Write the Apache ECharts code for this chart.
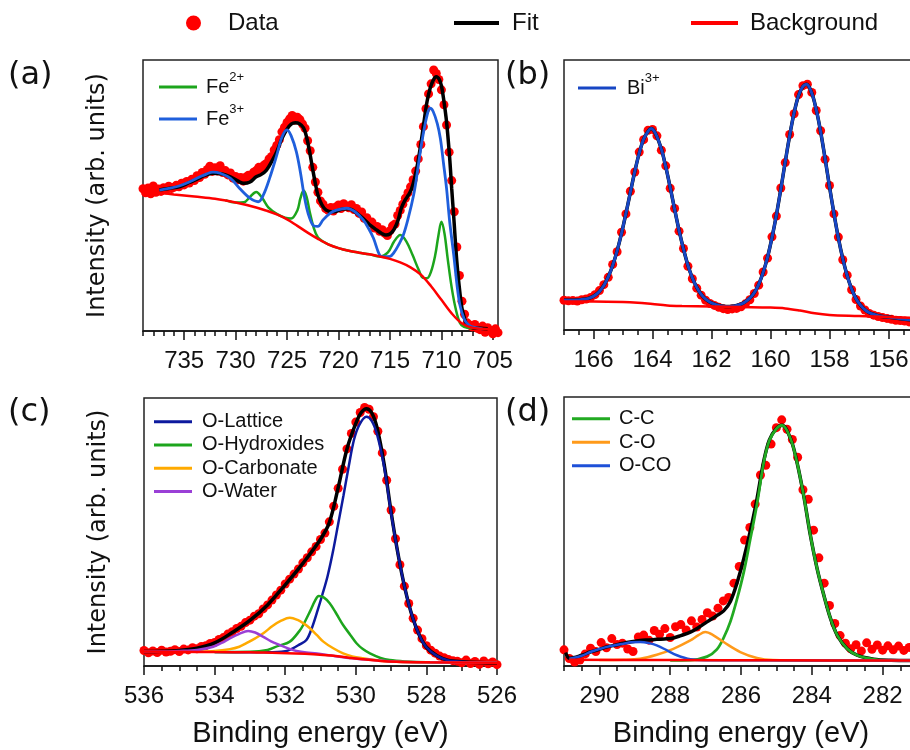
<!DOCTYPE html>
<html>
<head>
<meta charset="utf-8">
<title>XPS spectra</title>
<script src="https://cdn.jsdelivr.net/npm/echarts@6.0.0/dist/echarts.min.js"></script>
<style>
  html, body { margin: 0; padding: 0; background: #fff; }
  #chart { width: 910px; height: 750px; }
</style>
</head>
<body>
<div id="chart"></div>
<script>
// ---- tick positions (eV) ----
var aMajor = [705, 710, 715, 720, 725, 730, 735];
var aMinor = [705, 706, 707, 708, 709, 710, 711, 712, 713, 714, 715, 716, 717, 718, 719, 720, 721, 722, 723, 724, 725, 726, 727, 728, 729, 730, 731, 732, 733, 734, 735, 736, 737, 738, 739];
var bMajor = [156, 158, 160, 162, 164, 166];
var bMinor = [155, 155.5, 156, 156.5, 157, 157.5, 158, 158.5, 159, 159.5, 160, 160.5, 161, 161.5, 162, 162.5, 163, 163.5, 164, 164.5, 165, 165.5, 166, 166.5, 167];
var cMajor = [526, 528, 530, 532, 534, 536];
var cMinor = [526, 526.5, 527, 527.5, 528, 528.5, 529, 529.5, 530, 530.5, 531, 531.5, 532, 532.5, 533, 533.5, 534, 534.5, 535, 535.5, 536];
var dMajor = [282, 284, 286, 288, 290];
var dMinor = [281, 281.5, 282, 282.5, 283, 283.5, 284, 284.5, 285, 285.5, 286, 286.5, 287, 287.5, 288, 288.5, 289, 289.5, 290, 290.5, 291];

// ---- (a) Fe 2p : [binding energy, intensity 0-100] ----
var aData = [[739.00,52.5],[738.75,51.0],[738.50,52.8],[738.25,50.6],[738.00,53.5],[737.75,51.2],[737.50,52.4],[737.25,51.5],[737.00,52.9],[736.75,52.0],[736.50,53.4],[736.25,52.6],[736.00,53.0],[735.75,53.8],[735.50,53.2],[735.25,54.5],[735.00,53.9],[734.75,55.2],[734.50,54.6],[734.25,56.0],[734.00,55.5],[733.75,57.3],[733.50,56.6],[733.25,58.5],[733.00,57.8],[732.75,59.6],[732.50,60.8],[732.25,58.9],[732.00,60.2],[731.75,59.0],[731.50,61.0],[731.25,58.5],[731.00,59.2],[730.75,57.6],[730.50,58.3],[730.25,56.4],[730.00,57.0],[729.75,55.8],[729.50,56.6],[729.25,55.3],[729.00,56.8],[728.75,57.5],[728.50,56.9],[728.25,58.6],[728.00,59.2],[727.75,60.4],[727.50,59.5],[727.25,61.2],[727.00,61.8],[726.75,63.5],[726.50,64.4],[726.25,66.8],[726.00,68.5],[725.75,70.6],[725.50,73.5],[725.25,75.2],[725.00,77.0],[724.75,78.3],[724.50,79.5],[724.25,77.8],[724.00,78.9],[723.75,78.0],[723.50,76.4],[723.25,74.8],[723.00,70.2],[722.75,66.5],[722.50,60.4],[722.25,55.0],[722.00,51.2],[721.75,48.0],[721.50,46.8],[721.25,45.2],[721.00,44.5],[720.75,45.6],[720.50,44.3],[720.25,45.8],[720.00,46.5],[719.75,45.2],[719.50,47.0],[719.25,46.1],[719.00,45.5],[718.75,46.6],[718.50,44.8],[718.25,45.2],[718.00,43.4],[717.75,43.9],[717.50,41.6],[717.25,41.8],[717.00,39.9],[716.75,40.2],[716.50,38.0],[716.25,38.6],[716.00,36.8],[715.75,37.4],[715.50,36.0],[715.25,35.2],[715.00,37.0],[714.75,38.8],[714.50,39.5],[714.25,42.6],[714.00,44.5],[713.75,46.8],[713.50,49.0],[713.25,51.0],[713.00,53.2],[712.75,55.8],[712.50,59.0],[712.25,63.5],[712.00,68.8],[711.75,75.4],[711.50,82.0],[711.25,87.5],[711.00,91.2],[710.75,96.3],[710.50,95.0],[710.25,92.8],[710.00,89.0],[709.75,83.5],[709.50,76.0],[709.25,66.0],[709.00,55.5],[708.75,44.0],[708.50,31.0],[708.25,20.5],[708.00,11.0],[707.75,6.2],[707.50,3.0],[707.25,2.2],[707.00,1.5],[706.75,2.4],[706.50,1.0],[706.25,0.5],[706.00,1.8],[705.75,-0.5],[705.50,1.2],[705.25,0.2],[705.00,-1.0],[704.75,0.8],[704.50,-0.6]];
var aFit = [[737.4,52.0],[736.5,52.6],[735.4,53.3],[734.5,54.8],[733.8,55.9],[733.0,57.4],[732.2,58.2],[731.4,58.0],[730.5,56.9],[729.8,55.4],[729.2,54.5],[728.6,55.0],[728.0,56.9],[727.5,57.8],[727.0,59.4],[726.5,62.5],[726.0,66.2],[725.5,71.0],[725.0,74.5],[724.6,76.3],[724.2,76.8],[723.8,76.5],[723.4,75.0],[723.1,71.5],[722.8,66.0],[722.5,59.5],[722.2,53.5],[722.0,50.2],[721.6,46.5],[721.2,44.6],[720.6,44.0],[720.2,44.2],[719.6,45.0],[719.0,45.1],[718.6,44.5],[718.2,43.4],[717.6,41.5],[717.0,39.3],[716.3,37.3],[715.8,36.0],[715.4,35.4],[715.0,35.8],[714.6,37.5],[714.2,41.0],[713.9,45.3],[713.5,48.5],[713.2,50.2],[712.9,52.5],[712.6,56.5],[712.3,62.0],[712.0,69.0],[711.7,77.0],[711.4,84.6],[711.1,89.5],[710.8,92.5],[710.5,93.8],[710.2,92.8],[710.0,90.5],[709.8,86.0],[709.5,77.2],[709.2,64.0],[709.0,52.6],[708.8,42.0],[708.5,25.6],[708.2,14.0],[708.0,8.4],[707.7,4.0],[707.5,2.2],[707.0,1.2],[706.2,1.0],[705.5,0.8]];
var aFe2 = [[731,48.3],[730,47.4],[729.2,47.5],[728.6,49.5],[728.0,51.3],[727.4,49.0],[726.8,45.5],[726.0,43.2],[725.2,41.8],[724.6,41.5],[724.0,44.5],[723.7,49.0],[723.4,51.8],[723.1,49.5],[722.8,44.0],[722.4,38.0],[722.0,34.5],[721.5,33.0],[721,32.0],[720,30.6],[719,29.6],[718,28.9],[717,28.3],[716,27.5],[715.2,29.0],[714.6,33.0],[714.0,35.4],[713.4,33.0],[712.8,28.0],[712.2,22.5],[711.8,19.6],[711.4,19.5],[711.0,22.0],[710.6,28.0],[710.3,35.0],[710.0,40.3],[709.7,36.0],[709.4,27.0],[709.0,16.0],[708.6,8.0],[708.2,3.0],[707.8,1.5],[707,1.0]];
var aFe3 = [[737.4,52.0],[736.5,52.6],[735.5,53.5],[734.5,55.0],[733.5,56.8],[732.8,58.0],[732.2,58.6],[731.5,58.2],[730.5,56.3],[729.6,52.6],[728.6,49.0],[727.8,47.7],[727.3,50.2],[726.7,56.3],[726.0,64.9],[725.5,71.5],[725.0,74.2],[724.6,72.0],[724.1,66.2],[723.7,58.5],[723.4,51.4],[723.1,45.5],[722.8,41.6],[722.4,38.8],[722.0,38.6],[721.5,41.0],[720.8,43.5],[720.2,44.6],[719.2,45.3],[718.4,44.0],[717.6,41.0],[717.1,38.0],[716.6,34.2],[716.0,28.0],[715.6,27.4],[715.0,27.5],[714.6,29.0],[714.2,31.5],[713.7,35.4],[713.2,42.0],[712.7,50.2],[712.4,57.0],[712.1,64.9],[711.8,72.0],[711.4,79.5],[711.1,82.2],[710.8,81.0],[710.4,76.5],[710.1,71.0],[709.8,62.0],[709.5,52.6],[709.2,40.5],[708.8,28.0],[708.5,17.5],[708.2,9.6],[707.8,4.5],[707.5,2.8],[707.0,1.5],[706.0,0.8]];
var aBg = [[737.4,51.0],[736,50.4],[734,49.6],[732,48.8],[730,47.4],[728,45.6],[727,44.4],[726,43.0],[725,41.2],[724,38.8],[723,36.3],[722,34.0],[721,32.0],[720,30.6],[719,29.6],[718,28.9],[717,28.3],[716,27.5],[715,26.6],[714,25.3],[713,23.5],[712,20.8],[711,16.5],[710,11.5],[709,6.5],[708,2.8],[707,1.2],[706,0.8],[705,0.6]];

// ---- (b) Bi 4f ----
var bData = [[167.00,11.0],[166.85,10.8],[166.70,10.9],[166.55,10.7],[166.40,11.2],[166.25,11.5],[166.10,12.0],[165.95,13.1],[165.80,14.6],[165.65,16.8],[165.50,19.5],[165.35,24.3],[165.20,29.0],[165.05,36.2],[164.90,43.0],[164.75,51.4],[164.60,58.5],[164.45,65.9],[164.30,70.5],[164.15,74.0],[164.00,74.3],[163.85,71.9],[163.70,66.6],[163.55,60.8],[163.40,52.5],[163.25,45.0],[163.10,36.6],[162.95,30.2],[162.80,23.6],[162.65,19.0],[162.50,15.5],[162.35,12.9],[162.20,11.0],[162.05,9.8],[161.90,9.1],[161.75,8.4],[161.60,7.9],[161.45,7.6],[161.30,7.8],[161.15,8.0],[161.00,8.6],[160.85,9.7],[160.70,11.2],[160.55,13.5],[160.40,16.6],[160.25,21.5],[160.10,26.6],[159.95,34.5],[159.80,42.2],[159.65,52.6],[159.50,62.0],[159.35,72.4],[159.20,80.1],[159.05,87.2],[158.90,90.5],[158.75,91.0],[158.60,88.0],[158.45,81.3],[158.30,73.8],[158.15,63.2],[158.00,53.5],[157.85,43.0],[157.70,34.4],[157.55,26.0],[157.40,20.3],[157.25,14.9],[157.10,11.3],[156.95,8.9],[156.80,7.4],[156.65,6.1],[156.50,5.5],[156.35,5.0],[156.20,4.6],[156.05,4.3],[155.90,4.0],[155.75,3.6],[155.60,3.5],[155.45,3.3],[155.30,3.0],[155.15,2.8],[155.00,2.6]];
var bFit = [[167.00,11.0],[166.85,11.0],[166.70,11.0],[166.55,11.1],[166.40,11.3],[166.25,11.5],[166.10,12.0],[165.95,12.9],[165.80,14.3],[165.65,16.5],[165.50,19.7],[165.35,23.9],[165.20,29.3],[165.05,35.8],[164.90,43.2],[164.75,51.0],[164.60,58.7],[164.45,65.5],[164.30,70.7],[164.15,73.6],[164.05,74.6],[163.90,72.8],[163.70,67.0],[163.55,60.4],[163.40,52.8],[163.25,44.7],[163.10,36.9],[162.95,30.0],[162.80,24.0],[162.65,19.3],[162.50,15.8],[162.35,13.2],[162.20,11.4],[162.05,10.3],[161.90,9.6],[161.75,9.1],[161.60,8.8],[161.45,8.7],[161.30,8.8],[161.15,9.1],[161.00,9.6],[160.85,10.5],[160.70,11.8],[160.55,13.8],[160.40,16.9],[160.25,21.3],[160.10,27.0],[159.95,34.2],[159.80,42.6],[159.65,52.2],[159.50,62.3],[159.35,72.0],[159.20,80.4],[159.05,86.8],[158.90,90.2],[158.78,91.0],[158.60,87.7],[158.45,81.6],[158.30,73.4],[158.15,63.5],[158.00,53.1],[157.85,43.2],[157.70,34.1],[157.55,26.4],[157.40,20.1],[157.25,15.2],[157.10,11.6],[156.95,9.2],[156.80,7.5],[156.65,6.4],[156.50,5.8],[156.35,5.3],[156.20,5.0],[156.05,4.8],[155.75,4.4],[155.45,4.0],[155.00,3.5]];
var bBg = [[167,10.6],[166,10.6],[165,10.4],[164.5,10.1],[164,9.6],[163.5,9.1],[163,8.9],[162,8.7],[161,8.5],[160,8.3],[159.5,8.0],[159,7.2],[158.5,6.2],[158,5.6],[157,5.2],[156,4.8],[155,4.5]];

// ---- (c) O 1s ----
var cData = [[536.000,5.8],[535.875,4.9],[535.750,5.6],[535.625,5.0],[535.500,5.9],[535.375,5.2],[535.250,5.5],[535.125,6.1],[535.000,5.4],[534.875,6.3],[534.750,6.0],[534.625,6.8],[534.500,6.4],[534.375,7.3],[534.250,7.6],[534.125,8.4],[534.000,8.8],[533.875,9.9],[533.750,10.6],[533.625,11.9],[533.500,12.8],[533.375,14.0],[533.250,14.8],[533.125,16.2],[533.000,17.1],[532.875,18.6],[532.750,19.5],[532.625,21.3],[532.500,22.8],[532.375,24.6],[532.250,26.5],[532.125,28.3],[532.000,30.6],[531.875,32.4],[531.750,34.3],[531.625,36.2],[531.500,38.5],[531.375,40.4],[531.250,42.6],[531.125,44.6],[531.000,47.2],[530.875,49.6],[530.750,53.8],[530.625,59.6],[530.500,66.3],[530.375,73.4],[530.250,81.0],[530.125,86.8],[530.000,91.0],[529.875,94.6],[529.750,96.5],[529.625,95.8],[529.500,93.0],[529.375,87.6],[529.250,79.5],[529.125,69.3],[529.000,58.2],[528.875,47.5],[528.750,37.8],[528.625,29.8],[528.500,23.3],[528.375,17.8],[528.250,13.4],[528.125,10.2],[528.000,7.6],[527.875,5.9],[527.750,4.8],[527.625,3.7],[527.500,3.1],[527.375,2.4],[527.250,2.0],[527.125,1.8],[527.000,1.2],[526.875,2.2],[526.750,0.9],[526.625,1.7],[526.500,0.6],[526.375,1.9],[526.250,0.8],[526.125,1.5],[526.000,0.5]];
var cFit = [[536,5.4],[535.5,5.5],[535,5.8],[534.5,6.6],[534,8.6],[533.5,12.5],[533,17.0],[532.5,22.8],[532,30.3],[531.5,38.3],[531,47.3],[530.75,53.5],[530.5,66.5],[530.25,81.0],[530,90.5],[529.85,94.5],[529.7,96.0],[529.55,94.5],[529.4,89.0],[529.2,75.5],[529,57.5],[528.8,41.5],[528.6,28.5],[528.4,18.5],[528.2,11.5],[528,7.0],[527.7,3.8],[527.4,2.2],[527,1.6],[526.5,1.3],[526,1.2]];
var cLattice = [[534,5.2],[533,5.1],[532.5,5.1],[532,5.5],[531.8,6.5],[531.6,8.0],[531.4,9.7],[531.25,14.0],[531.1,20.0],[530.95,26.5],[530.8,33.5],[530.65,42.5],[530.5,53.0],[530.35,63.5],[530.2,74.5],[530.05,84.5],[529.9,90.0],[529.7,93.0],[529.55,91.5],[529.4,86.5],[529.2,74.5],[529,57.0],[528.8,41.5],[528.6,28.5],[528.4,18.5],[528.2,11.5],[528,7.0],[527.7,3.8],[527.4,2.2],[527,1.6],[526.5,1.3],[526,1.2]];
var cHydrox = [[534,5.2],[533,5.3],[532.5,6.0],[532.2,7.5],[531.87,9.1],[531.6,13.0],[531.49,15.3],[531.3,20.3],[531.15,24.5],[531.05,26.1],[530.9,25.5],[530.74,23.4],[530.55,19.5],[530.36,15.3],[530.15,11.5],[529.98,8.5],[529.8,6.3],[529.6,4.7],[529.3,3.0],[529.04,2.2],[528.6,1.7],[528,1.4],[527,1.3],[526,1.2]];
var cCarb = [[535,5.3],[534.5,5.4],[534,5.6],[533.57,6.3],[533.3,7.2],[533.1,8.5],[532.85,10.3],[532.62,12.2],[532.35,15.0],[532.1,17.0],[531.87,18.0],[531.65,17.2],[531.47,15.8],[531.3,14.1],[531.1,11.5],[530.92,9.1],[530.65,6.7],[530.36,4.7],[530.1,3.6],[529.8,2.9],[529.3,2.0],[528.85,1.6],[528,1.4],[527,1.3],[526,1.2]];
var cWater = [[536,5.4],[535.5,5.4],[535,5.6],[534.5,6.0],[534.04,7.2],[533.8,8.6],[533.57,10.3],[533.3,12.0],[533.05,13.1],[532.85,12.5],[532.62,10.9],[532.4,9.2],[532.15,7.8],[531.9,6.5],[531.68,5.6],[531.4,5.0],[531.1,4.7],[530.7,3.9],[530.2,3.0],[529.5,2.2],[529,1.7],[528,1.4],[527,1.3],[526,1.2]];
var cBg = [[536,5.4],[535,5.3],[534,5.2],[533,5.1],[532.6,5.0],[531.7,4.7],[531.2,4.4],[530.7,3.9],[530.2,3.1],[529.8,2.5],[529.3,1.9],[528.85,1.6],[527.9,1.4],[526,1.2]];

// ---- (d) C 1s ----
var dData = [[291.00,6.0],[290.85,2.8],[290.70,1.5],[290.55,2.2],[290.40,4.5],[290.25,6.6],[290.10,5.4],[289.95,8.7],[289.80,6.8],[289.65,10.2],[289.50,8.0],[289.35,8.5],[289.20,6.3],[289.05,5.4],[288.90,10.8],[288.75,11.5],[288.60,9.6],[288.45,13.2],[288.30,11.8],[288.15,13.9],[288.00,10.6],[287.85,14.6],[287.70,15.4],[287.55,13.4],[287.40,16.8],[287.25,14.5],[287.10,17.3],[286.95,19.8],[286.80,18.6],[286.65,21.5],[286.50,24.2],[286.35,25.5],[286.20,30.8],[286.05,37.0],[285.90,46.8],[285.75,51.5],[285.60,60.2],[285.45,71.0],[285.30,74.6],[285.15,82.5],[285.00,88.6],[284.85,91.5],[284.70,88.0],[284.55,84.2],[284.40,77.6],[284.25,65.5],[284.10,62.0],[283.95,50.5],[283.80,40.2],[283.65,30.8],[283.50,22.5],[283.35,15.8],[283.20,11.3],[283.05,8.5],[282.90,6.4],[282.75,7.9],[282.60,5.6],[282.45,8.6],[282.30,6.2],[282.15,7.8],[282.00,5.9],[281.85,7.5],[281.70,6.0],[281.55,7.4],[281.40,5.8],[281.25,6.9],[281.10,6.3],[281.00,7.0]];
var dFit = [[290.95,5.0],[290.85,2.9],[290.5,4.0],[290.26,5.2],[290.0,6.2],[289.79,7.1],[289.5,7.9],[289.32,8.5],[289.0,9.2],[288.85,9.5],[288.6,9.7],[288.38,9.9],[288.1,10.1],[287.91,10.4],[287.7,11.3],[287.43,12.6],[287.2,14.3],[286.96,16.4],[286.7,18.6],[286.49,20.5],[286.3,24.0],[286.11,31.0],[285.92,40.0],[285.74,50.0],[285.55,62.0],[285.36,76.0],[285.2,84.0],[285.0,88.3],[284.84,89.5],[284.6,84.5],[284.42,75.8],[284.23,63.4],[284.04,48.6],[283.85,36.2],[283.66,26.3],[283.47,17.6],[283.28,11.4],[283.0,6.4],[282.72,4.0],[282.25,2.5],[281.77,2.1],[281,2.0]];
var dCC = [[288,2.1],[287.43,2.2],[286.96,3.5],[286.68,6.2],[286.49,10.5],[286.3,16.5],[286.11,25.0],[285.92,35.0],[285.74,47.0],[285.55,60.0],[285.36,75.5],[285.2,83.8],[285.0,88.2],[284.84,89.5],[284.6,84.5],[284.42,75.8],[284.23,63.4],[284.04,48.6],[283.85,36.2],[283.66,26.3],[283.47,17.6],[283.28,11.4],[283.0,6.4],[282.72,4.0],[282.25,2.5],[281.77,2.1],[281,2.0]];
var dCO = [[290,2.2],[289.3,2.3],[288.85,2.7],[288.38,4.2],[287.91,6.4],[287.43,9.5],[287.2,11.5],[287.01,12.6],[286.8,11.6],[286.49,8.9],[286.02,5.2],[285.55,3.0],[285.1,2.2],[284.5,2.1],[281,2.0]];
var dOCO = [[290.85,2.7],[290.5,3.8],[290.26,5.2],[290.0,6.3],[289.79,7.1],[289.5,7.9],[289.32,8.3],[289.1,8.8],[288.85,8.9],[288.6,8.5],[288.38,7.7],[288.09,5.8],[287.81,4.0],[287.43,2.5],[287.0,2.1],[286,2.1],[281,2.0]];
var dBg = [[290.85,2.3],[288,2.2],[285,2.1],[281,2.0]];

var LIB = "'Liberation Sans', Arial, sans-serif";
var DJV = "'DejaVu Sans', sans-serif";

var myChart = echarts.init(document.getElementById('chart'), null, { renderer: 'canvas' });

// main axis (labels + long ticks) and a second one for the short ticks
function xAxes(gi, min, max, major, minor, withName) {
    var main = {
        gridIndex: gi, type: 'value', inverse: true, min: min, max: max, position: 'bottom',
        axisLine: { show: true, onZero: false, lineStyle: { color: '#111', width: 1.5 } },
        axisTick: { show: true, customValues: major, length: 9, lineStyle: { color: '#111', width: 1.5 } },
        axisLabel: { customValues: major, color: '#111', fontFamily: LIB, fontSize: 24, margin: 18 },
        splitLine: { show: false }
    };
    if (withName) {
        main.name = 'Binding energy (eV)';
        main.nameLocation = 'middle';
        main.nameGap = 53;
        main.nameTextStyle = { color: '#111', fontFamily: LIB, fontSize: 29 };
    }
    var sub = {
        gridIndex: gi, type: 'value', inverse: true, min: min, max: max, position: 'bottom', offset: 0,
        axisLine: { show: false },
        axisTick: { show: true, customValues: minor, length: 5, lineStyle: { color: '#111', width: 1.5 } },
        axisLabel: { show: false },
        splitLine: { show: false }
    };
    return [main, sub];
}

function yAxis(gi, withName) {
    var y = {
        gridIndex: gi, type: 'value', min: 0, max: 100,
        axisLine: { show: false }, axisTick: { show: false }, axisLabel: { show: false },
        splitLine: { show: false }
    };
    if (withName) {
        y.name = 'Intensity (arb. units)';
        y.nameLocation = 'middle';
        y.nameGap = 33;
        y.nameTextStyle = { color: '#111', fontFamily: DJV, fontSize: 24 };
    }
    return y;
}

function dots(data, xi) {
    return {
        name: 'Data', type: 'scatter', xAxisIndex: xi, yAxisIndex: xi / 2, data: data,
        symbol: 'circle', symbolSize: 9, color: '#ff0000', clip: false,
        itemStyle: { color: '#ff0000', opacity: 1 }
    };
}

function curve(name, data, xi, color, width) {
    return {
        name: name, type: 'line', xAxisIndex: xi, yAxisIndex: xi / 2, data: data,
        color: color, showSymbol: false, symbol: 'none', smooth: 0.35,
        lineStyle: { color: color, width: width }
    };
}

function panelLegend(names, left, top, rowH, pad) {
    return {
        data: names, orient: 'vertical', left: left, top: top, padding: 0,
        itemWidth: 38, itemHeight: 3, itemGap: 0, icon: 'rect', selectedMode: false,
        formatter: function (n) { return n.replace(/(\d\+)$/, '{s|$1}'); },
        textStyle: {
            color: '#111', fontFamily: LIB, fontSize: 20, lineHeight: rowH, padding: [0, 0, 0, pad],
            rich: { s: { color: '#111', fontFamily: LIB, fontSize: 13, lineHeight: 14, verticalAlign: 'top' } }
        }
    };
}

function panelTitle(text, left, top) {
    return { text: text, left: left, top: top, padding: 0,
        textStyle: { color: '#111', fontFamily: DJV, fontSize: 32, fontWeight: 'normal' } };
}

function panelGrid(left, top, width, height) {
    return { left: left, top: top, width: width, height: height, outerBoundsMode: 'none',
        containLabel: false, show: true, borderColor: '#222', borderWidth: 1.5 };
}

var xs = [].concat(
    xAxes(0, 704.5, 739, aMajor, aMinor, false),
    xAxes(1, 155, 167, bMajor, bMinor, false),
    xAxes(2, 526, 536, cMajor, cMinor, true),
    xAxes(3, 281, 291, dMajor, dMinor, true)
);

var option = {
    animation: false,
    backgroundColor: '#fff',
    title: [
        panelTitle('(a)', 8, 60),
        panelTitle('(b)', 505, 60),
        panelTitle('(c)', 8, 397),
        panelTitle('(d)', 505, 397)
    ],
    legend: [
        { data: ['Data'], left: 186, top: 8, padding: 0, itemWidth: 15, itemHeight: 15, icon: 'circle', selectedMode: false,
          textStyle: { color: '#111', fontFamily: LIB, fontSize: 24, lineHeight: 30, padding: [0, 0, 0, 22] } },
        { data: ['Fit'], left: 454, top: 8, padding: 0, itemWidth: 45, itemHeight: 4, icon: 'rect', selectedMode: false,
          textStyle: { color: '#111', fontFamily: LIB, fontSize: 24, lineHeight: 30, padding: [0, 0, 0, 8] } },
        { data: ['Background'], left: 691, top: 8, padding: 0, itemWidth: 47, itemHeight: 4, icon: 'rect', selectedMode: false,
          textStyle: { color: '#111', fontFamily: LIB, fontSize: 24, lineHeight: 30, padding: [0, 0, 0, 7] } },
        panelLegend(['Fe2+', 'Fe3+'], 159, 71, 32, 4),
        panelLegend(['Bi3+'], 578, 72, 32, 6),
        panelLegend(['O-Lattice', 'O-Hydroxides', 'O-Carbonate', 'O-Water'], 154, 410, 23.3, 5),
        panelLegend(['C-C', 'C-O', 'O-CO'], 572, 407, 23.5, 4)
    ],
    grid: [
        panelGrid(143, 60, 355, 271),
        panelGrid(564, 60, 354, 270),
        panelGrid(144, 398, 353, 268),
        panelGrid(564, 397, 354, 269)
    ],
    xAxis: xs,
    yAxis: [yAxis(0, true), yAxis(1, false), yAxis(2, true), yAxis(3, false)],
    series: [
        // (a)
        dots(aData, 0),
        curve('Fit', aFit, 0, '#000000', 3.5),
        curve('Fe2+', aFe2, 0, '#1ca51c', 2.5),
        curve('Fe3+', aFe3, 0, '#1f5fdc', 2.8),
        curve('Background', aBg, 0, '#ff0000', 2.5),
        // (b)
        dots(bData, 2),
        curve('Fit', bFit, 2, '#000000', 3.5),
        curve('Bi3+', bFit, 2, '#1746c4', 3),
        curve('Background', bBg, 2, '#ff0000', 2.5),
        // (c)
        dots(cData, 4),
        curve('Fit', cFit, 4, '#000000', 3.5),
        curve('O-Lattice', cLattice, 4, '#0d1a9e', 2.5),
        curve('O-Hydroxides', cHydrox, 4, '#1ca51c', 2.5),
        curve('O-Carbonate', cCarb, 4, '#ffaa00', 2.5),
        curve('O-Water', cWater, 4, '#9a3fd6', 2.5),
        curve('Background', cBg, 4, '#ff0000', 2.5),
        // (d)
        dots(dData, 6),
        curve('Fit', dFit, 6, '#000000', 3.5),
        curve('C-C', dCC, 6, '#22aa22', 2.8),
        curve('C-O', dCO, 6, '#ff9a1a', 2.5),
        curve('O-CO', dOCO, 6, '#1e50d8', 2.5),
        curve('Background', dBg, 6, '#ff0000', 2.5)
    ]
};
myChart.setOption(option);
</script>
</body>
</html>
